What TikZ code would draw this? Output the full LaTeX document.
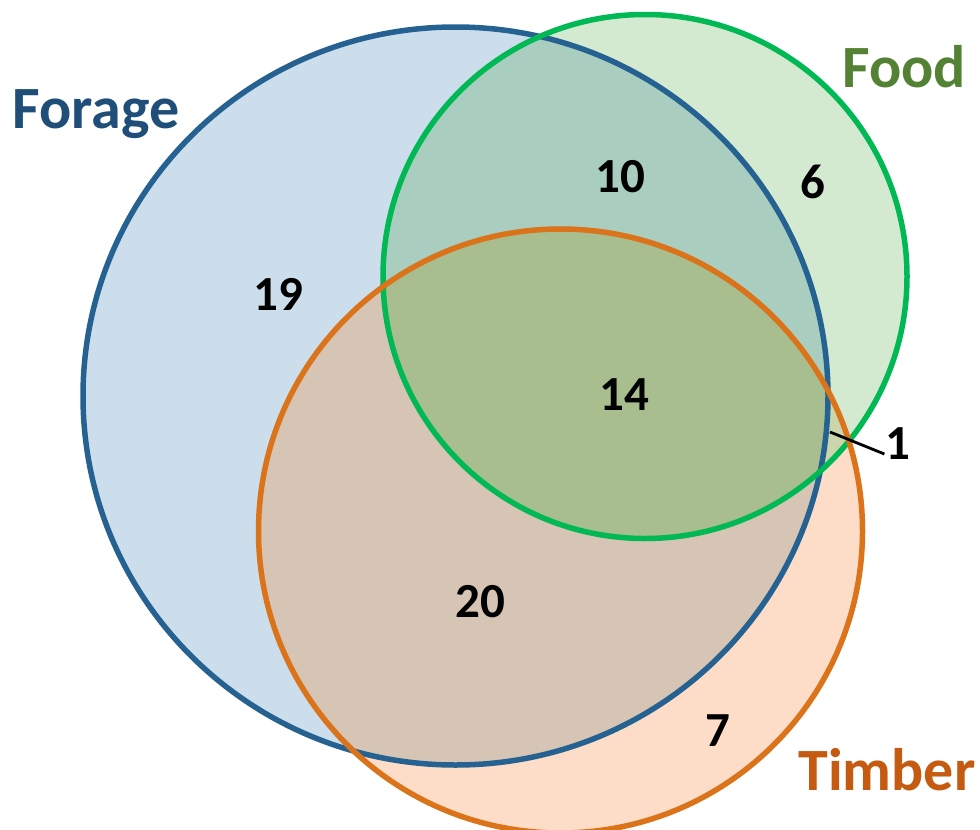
\documentclass[tikz,border=0pt]{standalone}
\usepackage{fontspec}
\setmainfont{Carlito}

\definecolor{forageline}{RGB}{38,98,145}
\definecolor{foodline}{RGB}{0,184,84}
\definecolor{timberline}{RGB}{218,115,25}
\definecolor{foragetext}{RGB}{31,78,121}
\definecolor{foodtext}{RGB}{84,130,53}
\definecolor{timbertext}{RGB}{197,90,17}
\definecolor{foragefill}{RGB}{204,221,236}
\definecolor{foodfill}{RGB}{212,234,208}
\definecolor{timberfill}{RGB}{253,221,199}
\definecolor{forfoodfill}{RGB}{169,206,192}
\definecolor{fortimfill}{RGB}{214,196,181}
\definecolor{foodtimfill}{RGB}{203,214,172}
\definecolor{allfill}{RGB}{168,190,142}

\newcommand{\foragepath}{(455.5,396) ellipse [x radius=372.5, y radius=369]}
\newcommand{\foodpath}{(645,276.5) circle [radius=262]}
\newcommand{\timberpath}{(560.5,531) circle [radius=302]}

\begin{document}
\begin{tikzpicture}[
  x=1pt, y=-1pt,
  ring/.style={line width=5.5pt},
  setlabel/.style={font=\fontsize{60}{72}\selectfont\bfseries, inner sep=0pt, anchor=base},
  count/.style={font=\fontsize{49}{58}\selectfont\bfseries, inner sep=0pt, anchor=base},
  leader/.style={line width=2.8pt}
]
\useasboundingbox (0,0) rectangle (980,830);

% plain fills
\fill[foragefill] \foragepath;
\fill[foodfill] \foodpath;
\fill[timberfill] \timberpath;

% overlaps
\begin{scope}
  \clip \foragepath;
  \fill[forfoodfill] \foodpath;
  \fill[fortimfill] \timberpath;
\end{scope}
\begin{scope}
  \clip \foodpath;
  \fill[foodtimfill] \timberpath;
\end{scope}
\begin{scope}
  \clip \foragepath;
  \clip \foodpath;
  \fill[allfill] \timberpath;
\end{scope}

% outlines
\draw[ring, forageline] \foragepath;
\draw[ring, foodline] \foodpath;
\draw[ring, timberline] \timberpath;

% set names
\node[setlabel, text=foragetext] (forage) at (96,128) {Forage};
\node[setlabel, text=foodtext] (food) at (904,87) {Food};
\node[setlabel, text=timbertext] (timber) at (887,790) {Timber};

% counts
\node[count] (n19) at (278,310) {19};
\node[count] (n10) at (620,192) {10};
\node[count] (n6) at (813,198) {6};
\node[count] (n14) at (624,410) {14};
\node[count] (n1) at (898,459) {1};
\node[count] (n20) at (480,617) {20};
\node[count] (n7) at (718,746) {7};

\coordinate (onetip) at (830,432);
\draw[leader] (onetip) -- ([shift={(-1,-5)}]n1.base west);
\end{tikzpicture}
\end{document}
